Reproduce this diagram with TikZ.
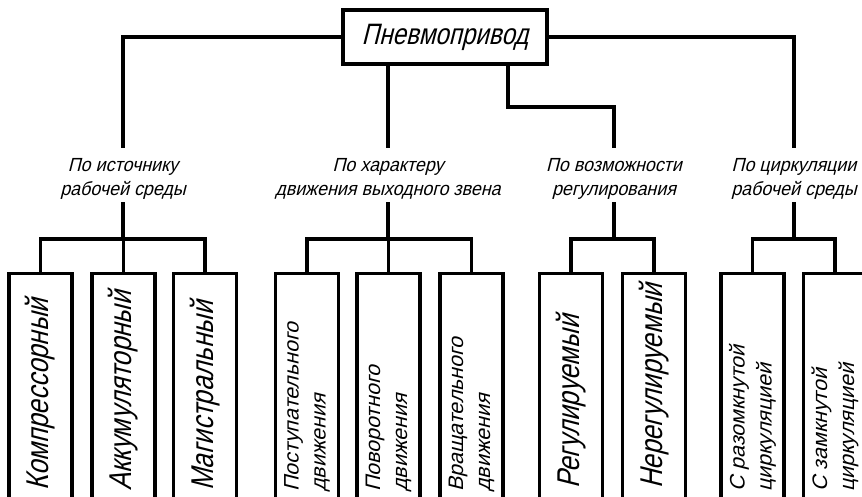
\documentclass[tikz,border=0pt]{standalone}
\usepackage{fontspec}
% slanted drafting-style lettering
\newfontfamily\gostwide{Liberation Sans}[FakeSlant=0.25,FakeStretch=0.94]
\newfontfamily\gostnarrow{Liberation Sans}[FakeSlant=0.25,FakeStretch=0.82]
\newfontfamily\gostsmall{Liberation Sans}[FakeSlant=0.25,FakeStretch=1.02]

\tikzset{
  conn/.style={line width=3.1pt, line join=miter},
  rootbox/.style={draw, line width=3.1pt, minimum width=204pt, minimum height=54pt,
    inner sep=0pt, font=\gostnarrow\fontsize{29.5}{32}\selectfont},
  crit/.style={align=center, inner sep=0pt, minimum height=54pt,
    font=\gostwide\fontsize{19}{24.5}\selectfont},
  leafbox/.style={draw, line width=3.1pt, minimum width=63pt, minimum height=240pt,
    inner sep=0pt, anchor=north},
  bigtxt/.style={rotate=90, anchor=west, inner sep=0pt,
    font=\gostnarrow\fontsize{31.5}{34}\selectfont},
  smalltxt/.style={rotate=90, anchor=west, inner sep=0pt, align=left,
    font=\gostsmall\fontsize{21}{27}\selectfont},
}

\begin{document}
\begin{tikzpicture}[x=1pt, y=-1pt]
  \useasboundingbox (0,0) rectangle (862,497);
  \fill[white] (0,0) rectangle (862,497);
  \clip (0,0) rectangle (862,497);

  % root
  \node[rootbox] (root) at (445,37) {Пневмопривод};

  % classification criteria
  \node[crit] (c1) at (123,179) {По источнику\\рабочей среды};
  \node[crit] (c2) at (388,179) {По характеру\\движения выходного звена};
  \node[crit] (c3) at (614,179) {По возможности\\регулирования};
  \node[crit] (c4) at (794,179) {По циркуляции\\рабочей среды};

  % leaf boxes (run past the lower edge)
  \node[leafbox] (b1)  at (40.5,272) {};
  \node[leafbox] (b2)  at (123.5,272) {};
  \node[leafbox] (b3)  at (205,272) {};
  \node[leafbox] (b4)  at (307,272) {};
  \node[leafbox] (b5)  at (388.5,272) {};
  \node[leafbox] (b6)  at (471.5,272) {};
  \node[leafbox] (b7)  at (571,272) {};
  \node[leafbox] (b8)  at (654,272) {};
  \node[leafbox] (b9)  at (752.5,272) {};
  \node[leafbox] (b10) at (835,272) {};

  % leaf texts, written upwards from the bottom
  \node[bigtxt] (t1) at (b1.north |- 0,491) {Компрессорный};
  \node[bigtxt] (t2) at (b2.north |- 0,491) {Аккумуляторный};
  \node[bigtxt] (t3) at (b3.north |- 0,491) {Магистральный};
  \node[smalltxt] (t4) at (b4.north |- 0,492) {Поступательного\\движения};
  \node[smalltxt] (t5) at (b5.north |- 0,492) {Поворотного\\движения};
  \node[smalltxt] (t6) at (b6.north |- 0,492) {Вращательного\\движения};
  \node[bigtxt] (t7) at (b7.north |- 0,489) {Регулируемый};
  \node[bigtxt] (t8) at (b8.north |- 0,489) {Нерегулируемый};
  \node[smalltxt] (t9) at (b9.north |- 0,492) {С разомкнутой\\циркуляцией};
  \node[smalltxt] (t10) at (b10.north |- 0,492) {С замкнутой\\циркуляцией};

  % anchors where the connectors meet the criteria labels
  \foreach \c in {c1,c2,c3,c4} {
    \coordinate (\c top) at ([yshift=4pt]\c.north);
    \coordinate (\c bot) at ([yshift=4pt]\c.south);
  }

  % root to criteria
  \coordinate (k3) at (508,107);
  \draw[conn] (root.west) -| (c1top);
  \draw[conn] (root.south -| c2top) -- (c2top);
  \draw[conn] (root.south -| k3) -- (k3) -| (c3top);
  \draw[conn] (root.east) -| (c4top);

  % buses
  \coordinate (busA) at (123,239);
  \coordinate (busB) at (388,239);
  \coordinate (busC) at (614,239);
  \coordinate (busD) at (794,239);

  \draw[conn] (c1bot) -- (busA);
  \draw[conn] (b1.north) -- (b1.north |- busA) -- (b3.north |- busA) -- (b3.north);
  \draw[conn] (b2.north) -- (b2.north |- busA);

  \draw[conn] (c2bot) -- (busB);
  \draw[conn] (b4.north) -- (b4.north |- busB) -- (b6.north |- busB) -- (b6.north);
  \draw[conn] (b5.north) -- (b5.north |- busB);

  \draw[conn] (c3bot) -- (busC);
  \draw[conn] (b7.north) -- (b7.north |- busC) -- (b8.north |- busC) -- (b8.north);

  \draw[conn] (c4bot) -- (busD);
  \draw[conn] (b9.north) -- (b9.north |- busD) -- (b10.north |- busD) -- (b10.north);
\end{tikzpicture}
\end{document}
